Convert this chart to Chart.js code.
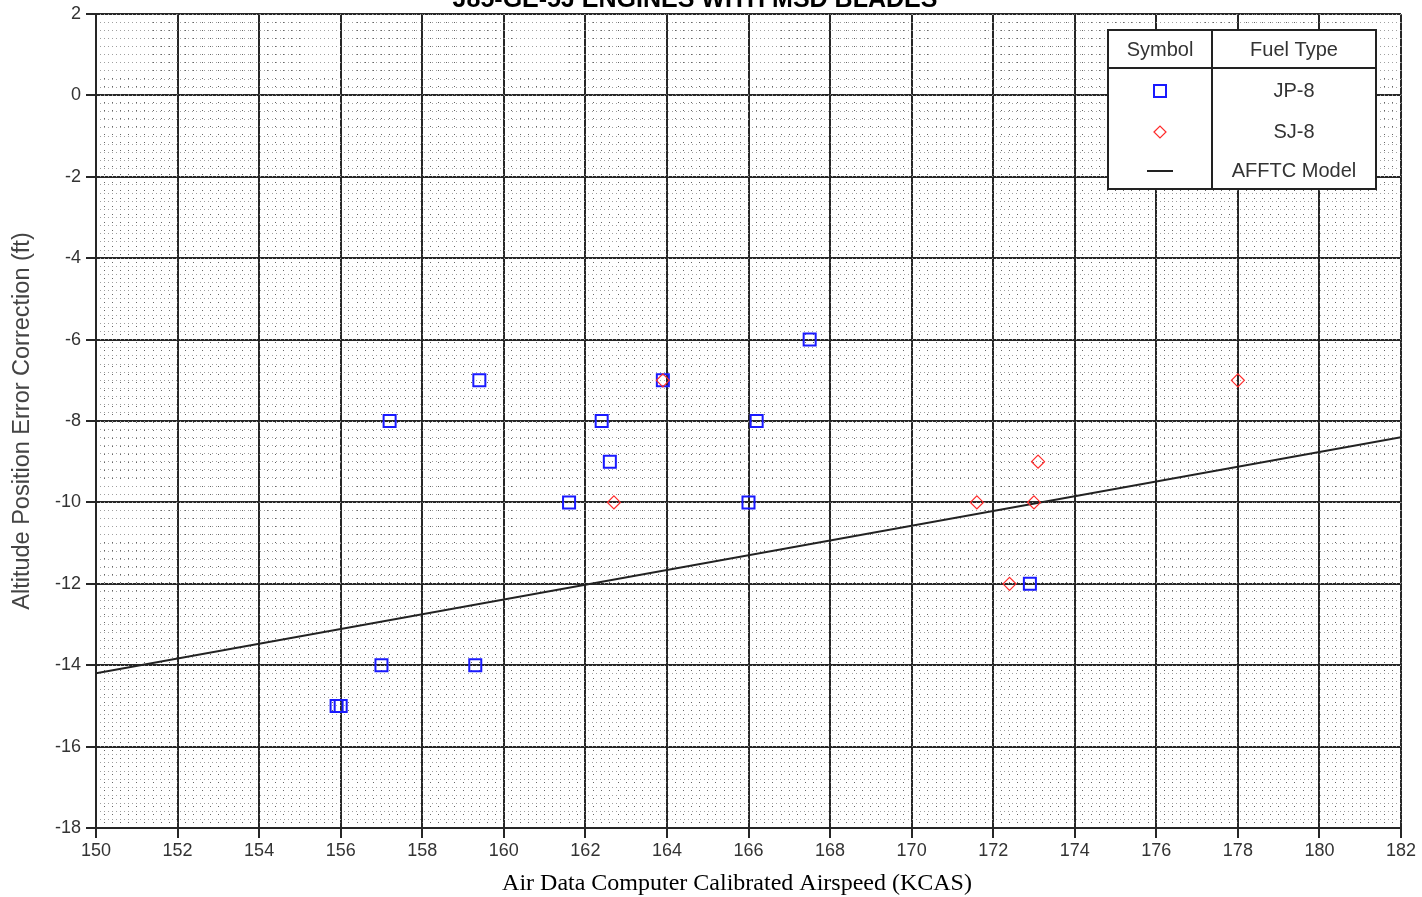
<!DOCTYPE html>
<html>
<head>
<meta charset="utf-8">
<title>Altitude Position Error Correction</title>
<script src="https://cdn.jsdelivr.net/npm/chart.js@4.4.0/dist/chart.umd.min.js"></script>
<style>
  html, body { margin: 0; padding: 0; background: #fff; }
  canvas { display: block; }
</style>
</head>
<body>
<canvas id="pecChart" width="1422" height="897"></canvas>
<script>
// JP-8 test points (KCAS, correction in ft)
var jp8Kcas = [157.2, 159.4, 157.0, 159.3, 155.9, 156.0, 161.6, 162.4, 162.6, 163.9, 166.0, 166.2, 167.5, 172.9];
var jp8Pec  = [-8, -7, -14, -14, -15, -15, -10, -8, -9, -7, -10, -8, -6, -12];

// SJ-8 test points
var sj8Kcas = [163.9, 162.7, 171.6, 173.0, 173.1, 172.4, 178.0];
var sj8Pec  = [-7, -10, -10, -10, -9, -12, -7];

// AFFTC model (straight line across the plotted range)
var modelKcas = [150, 182];
var modelPec  = [-14.2, -8.4];

// axis ticks
var xTickValues = [150, 152, 154, 156, 158, 160, 162, 164, 166, 168, 170, 172, 174, 176, 178, 180, 182];
var yTickValues = [-18, -16, -14, -12, -10, -8, -6, -4, -2, 0, 2];

// legend table rows
var legendHeaders = ['Symbol', 'Fuel Type'];
var legendLabels = ['JP-8', 'SJ-8', 'AFFTC Model'];

var chartTitle = 'J85-GE-5J ENGINES WITH MSD BLADES';
var xTitle = 'Air Data Computer Calibrated Airspeed (KCAS)';

function toPoints(xs, ys) {
  return xs.map(function(x, i) { return { x: x, y: ys[i] }; });
}

var sans = 'Liberation Sans, Arial, sans-serif';
var tickFont = { family: sans, size: 18, lineHeight: 1 };

// title (running off the top edge), x axis title and the boxed legend table
var decorPlugin = {
  id: 'decor',
  afterDraw: function(chart) {
    var ctx = chart.ctx;
    ctx.save();
    ctx.fillStyle = '#000';
    ctx.font = 'bold 25px ' + sans;
    ctx.textAlign = 'center';
    ctx.textBaseline = 'alphabetic';
    ctx.fillText(chartTitle, 695, 7);

    ctx.font = '24px Liberation Serif, Times New Roman, serif';
    ctx.fillText(xTitle, 737, 890);

    // legend box
    var left = 1108, top = 30, right = 1376, bottom = 189;
    var colX = 1212, headY = 68;
    ctx.fillStyle = '#fff';
    ctx.fillRect(left, top, right - left, bottom - top);
    ctx.strokeStyle = '#222';
    ctx.lineWidth = 2;
    ctx.strokeRect(left, top, right - left, bottom - top);
    ctx.beginPath();
    ctx.moveTo(colX, top); ctx.lineTo(colX, bottom);
    ctx.moveTo(left, headY); ctx.lineTo(right, headY);
    ctx.stroke();

    ctx.fillStyle = '#333';
    ctx.font = '20px ' + sans;
    ctx.textBaseline = 'middle';
    var symX = (left + colX) / 2;
    var labX = (colX + right) / 2;
    ctx.fillText(legendHeaders[0], symX, 50);
    ctx.fillText(legendHeaders[1], labX, 50);
    var rowY = [91, 132, 171];
    legendLabels.forEach(function(label, i) {
      ctx.fillText(label, labX, rowY[i]);
    });

    // symbols
    ctx.strokeStyle = '#1a1aff';
    ctx.lineWidth = 2;
    ctx.strokeRect(symX - 6, rowY[0] - 6, 12, 12);
    ctx.strokeStyle = '#ff2a2a';
    ctx.lineWidth = 1.2;
    ctx.beginPath();
    ctx.moveTo(symX - 6, rowY[1]);
    ctx.lineTo(symX, rowY[1] - 6);
    ctx.lineTo(symX + 6, rowY[1]);
    ctx.lineTo(symX, rowY[1] + 6);
    ctx.closePath();
    ctx.stroke();
    ctx.strokeStyle = '#222';
    ctx.lineWidth = 2;
    ctx.beginPath();
    ctx.moveTo(symX - 13, rowY[2]);
    ctx.lineTo(symX + 13, rowY[2]);
    ctx.stroke();
    ctx.restore();
  }
};

var ctx = document.getElementById('pecChart').getContext('2d');

new Chart(ctx, {
  type: 'scatter',
  data: {
    datasets: [{
      label: 'SJ-8',
      data: toPoints(sj8Kcas, sj8Pec),
      pointStyle: 'rectRot',
      radius: 6.5,
      borderColor: '#ff2a2a',
      borderWidth: 1.2,
      backgroundColor: 'rgba(0,0,0,0)',
      order: 0
    }, {
      label: 'JP-8',
      data: toPoints(jp8Kcas, jp8Pec),
      pointStyle: 'rect',
      radius: 8.5,
      borderColor: '#1a1aff',
      borderWidth: 2,
      backgroundColor: 'rgba(0,0,0,0)',
      order: 1
    }, {
      label: 'AFFTC Model',
      data: toPoints(modelKcas, modelPec),
      showLine: true,
      borderColor: '#222',
      borderWidth: 2,
      pointRadius: 0,
      order: 2
    }]
  },
  options: {
    responsive: false,
    animation: false,
    layout: { padding: { left: 0, top: 13, right: 21, bottom: 0 } },
    plugins: {
      legend: { display: false },
      tooltip: { enabled: false }
    },
    scales: {
      x: {
        type: 'linear',
        position: 'bottom',
        min: 150,
        max: 182,
        afterBuildTicks: function(scale) {
          scale.ticks = xTickValues.map(function(v) { return { value: v }; });
        },
        afterFit: function(scale) { scale.height = 69; },
        ticks: { font: tickFont, color: '#333', padding: 4, maxRotation: 0, autoSkip: false },
        grid: { color: '#262626', lineWidth: 2, tickLength: 10 },
        border: { color: '#262626', width: 2 }
      },
      y: {
        type: 'linear',
        position: 'left',
        min: -18,
        max: 2,
        afterBuildTicks: function(scale) {
          scale.ticks = yTickValues.map(function(v) { return { value: v }; });
        },
        afterFit: function(scale) { scale.width = 96; },
        ticks: { font: tickFont, color: '#333', padding: 5, autoSkip: false },
        grid: { color: '#262626', lineWidth: 2, tickLength: 10 },
        border: { color: '#262626', width: 2 },
        title: {
          display: true,
          text: 'Altitude Position Error Correction (ft)',
          color: '#444',
          font: { family: sans, size: 23.5 },
          padding: { top: 8, bottom: 0 }
        }
      },
      // dotted minor grid every 0.2 units
      xMinor: {
        type: 'linear',
        position: 'top',
        min: 150,
        max: 182,
        z: -1,
        afterFit: function(scale) { scale.height = 0; },
        ticks: { display: false, stepSize: 0.2 },
        grid: { color: '#666', lineWidth: 1, drawTicks: false },
        border: { display: false, dash: [1, 7] }
      },
      yMinor: {
        type: 'linear',
        position: 'right',
        min: -18,
        max: 2,
        z: -1,
        afterFit: function(scale) { scale.width = 0; },
        ticks: { display: false, stepSize: 0.2 },
        grid: { color: '#a0a0a0', lineWidth: 1, drawTicks: false },
        border: { display: false, dash: [1, 3] }
      }
    }
  },
  plugins: [decorPlugin]
});
</script>
</body>
</html>
